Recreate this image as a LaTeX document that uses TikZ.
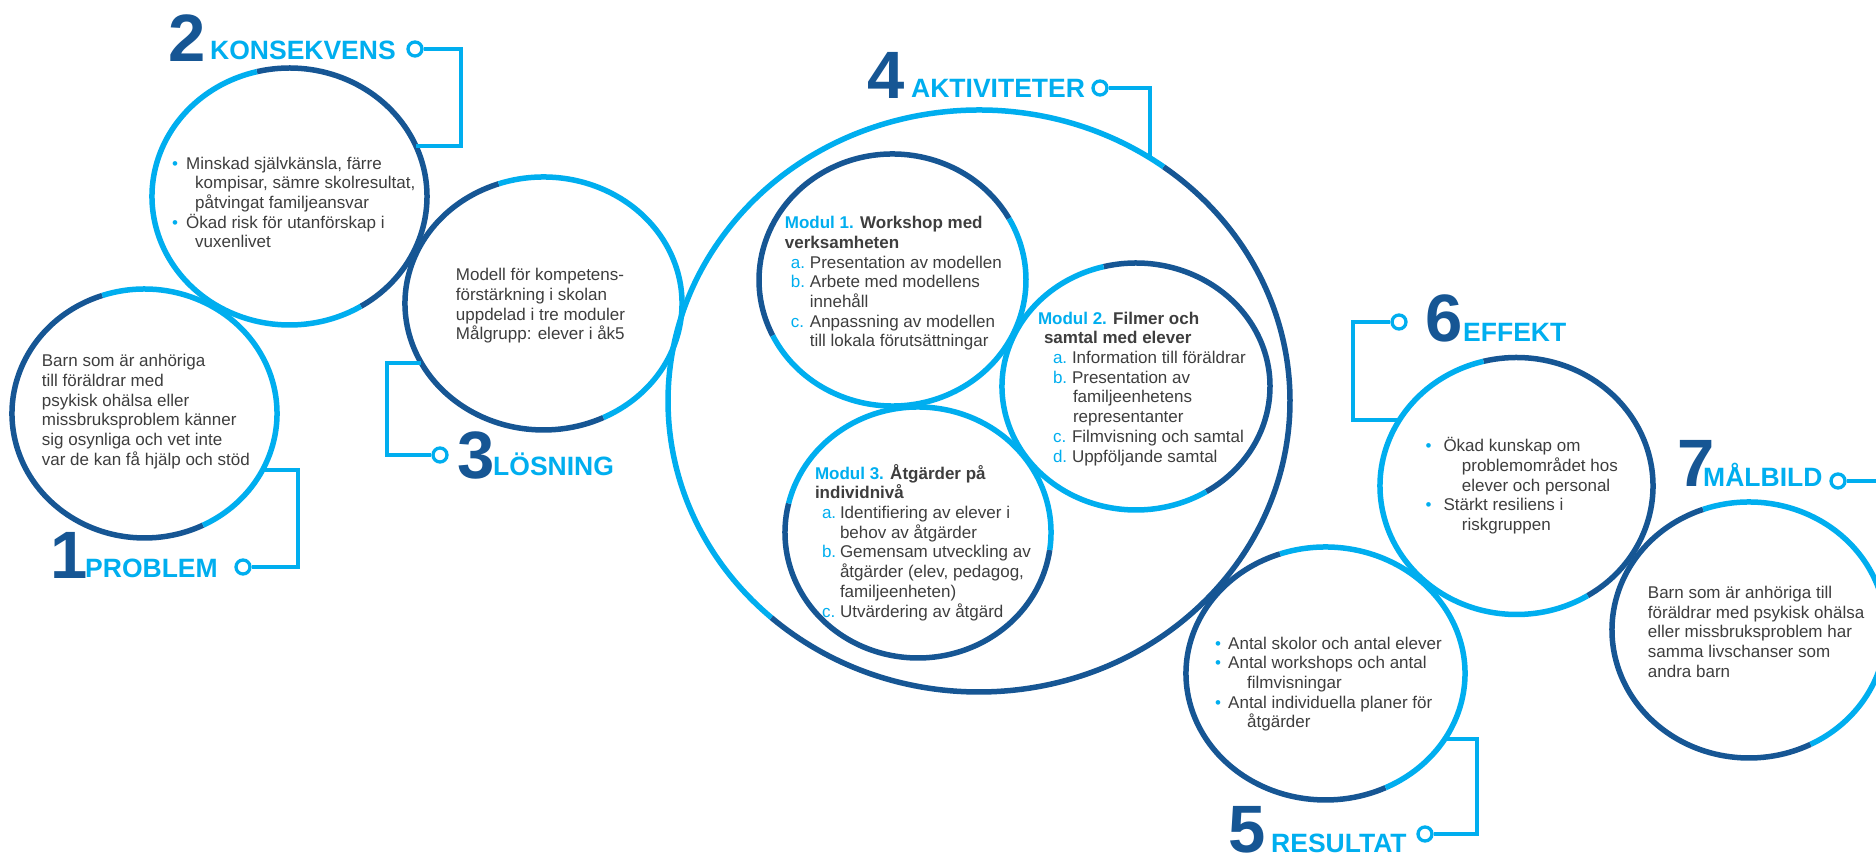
\documentclass[tikz,border=0pt]{standalone}
\usepackage{fontspec}
\setmainfont{Liberation Sans}
\definecolor{lb}{RGB}{0,174,239}
\definecolor{db}{RGB}{22,86,148}
\definecolor{tx}{RGB}{62,62,62}
\newcommand\twotonering[5]{%
  \draw[circline,db] (#1) ++(#4:#2pt and #3pt) arc[start angle=#4, end angle=#5, x radius=#2pt, y radius=#3pt];
  \draw[circline,lb] (#1) ++(#5:#2pt and #3pt) arc[start angle=#5, end angle=#4+360, x radius=#2pt, y radius=#3pt];}
\newcommand\mybul[1]{\makebox[#1][l]{\textcolor{lb}{•}}}
\newcommand\myitm[3]{\hspace*{#1}\makebox[#2][l]{\textcolor{lb}{#3}}}
\newcommand\fl{\rule{0pt}{17pt}}
\begin{document}
\begin{tikzpicture}[x=1pt,y=1pt,
  circline/.style={line width=5.5pt},
  connline/.style={draw=lb,line width=3.4pt},
  ringnode/.style={circle,draw=lb,line width=3.3pt,fill=white,minimum size=14pt,inner sep=0pt},
  bodytext/.style={anchor=north west,inner sep=0pt,align=left,text=tx,font=\fontsize{17}{19.7}\selectfont},
  wordlbl/.style={anchor=base west,inner sep=0pt,text=lb,font=\fontsize{26.5}{30}\selectfont\bfseries},
  digitlbl/.style={anchor=base east,inner sep=0pt,text=db,font=\fontsize{67}{70}\selectfont\bfseries}]
\useasboundingbox (0,0) rectangle (1876,856);
\fill[white] (0,0) rectangle (1876,856);
% centres
\coordinate (c1) at (144.5,442.5);
\coordinate (c2) at (289.5,659.5);
\coordinate (c3) at (543.5,552.5);
\coordinate (c4) at (979,455);
\coordinate (m1) at (892.5,576);
\coordinate (m2) at (1136,469.5);
\coordinate (m3) at (918,323.5);
\coordinate (c5) at (1325.5,182.5);
\coordinate (c6) at (1516.5,370);
\coordinate (c7) at (1749,226);
% circles
\twotonering{c4}{311}{291}{-131.9}{53.6}
\twotonering{m1}{133.5}{126}{29.2}{206.2}
\twotonering{m2}{134}{123.5}{-58.4}{104}
\twotonering{m3}{133}{125.5}{166.6}{352}
\twotonering{c1}{132.5}{124.5}{108.6}{296.2}
\twotonering{c2}{137.5}{128.5}{-58.7}{103.7}
\twotonering{c3}{138.5}{126.5}{108.9}{295.6}
\twotonering{c5}{139.5}{126.5}{109}{295.5}
\twotonering{c6}{136.5}{128.5}{-58.6}{104}
\twotonering{c7}{137}{128}{109.6}{296.7}
% connector corners and ends
\coordinate (k1) at (298,386);   \coordinate (e1) at (262.6,386);
\coordinate (k2) at (461,710);   \coordinate (e2) at (415.9,710);
\coordinate (k3) at (387,493);   \coordinate (e3) at (421.3,493);
\coordinate (e4) at (1150,698);
\coordinate (k5) at (1477,117);  \coordinate (e5) at (1444.8,117);
\coordinate (k6) at (1353,436);  \coordinate (e6) at (1399.4,436);
\coordinate (e7) at (1880,375);
% rings
\node[ringnode] (r1) at (243,289) {};
\node[ringnode] (r2) at (415,807) {};
\node[ringnode] (r3) at (440,401) {};
\node[ringnode] (r4) at (1100,768) {};
\node[ringnode] (r5) at (1425,22) {};
\node[ringnode] (r6) at (1399,534) {};
\node[ringnode] (r7) at (1838,375) {};
% connectors
\draw[connline] (r1.east) -| (k1) -- (e1);
\draw[connline] (r2.east) -| (k2) -- (e2);
\draw[connline] (r3.west) -| (k3) -- (e3);
\draw[connline] (r4.east) -| (e4);
\draw[connline] (r5.east) -| (k5) -- (e5);
\draw[connline] (r6.west) -| (k6) -- (e6);
\draw[connline] (r7.east) -- (e7);
% labels
\node[digitlbl] (d1) at (88,277.7) {1};
\node[wordlbl]  (w1) at (85,278) {PROBLEM};
\node[digitlbl] (d2) at (205.7,794.5) {2};
\node[wordlbl]  (w2) at (210,796.7) {KONSEKVENS};
\node[digitlbl] (d3) at (494.7,377) {3};
\node[wordlbl]  (w3) at (493,380.5) {LÖSNING};
\node[digitlbl] (d4) at (904.5,757) {4};
\node[wordlbl]  (w4) at (911,758) {AKTIVITETER};
\node[digitlbl] (d5) at (1265.7,3) {5};
\node[wordlbl]  (w5) at (1271,3) {RESULTAT};
\node[digitlbl] (d6) at (1462.7,514) {6};
\node[wordlbl]  (w6) at (1463,514.3) {EFFEKT};
\node[digitlbl] (d7) at (1714.5,369) {7};
\node[wordlbl]  (w7) at (1703,369.3) {MÅLBILD};
% texts
\node[bodytext] (t1) at (41.7,506.5) {\fl Barn som är anhöriga\\ till föräldrar med\\ psykisk ohälsa eller\\ missbruksproblem känner\\ sig osynliga och vet inte\\ var de kan få hjälp och stöd};
\node[bodytext] (t2) at (172,704) {\fl\mybul{14pt}Minskad självkänsla, färre\\ \hspace*{23pt}kompisar, sämre skolresultat,\\ \hspace*{23pt}påtvingat familjeansvar\\ \mybul{14pt}Ökad risk för utanförskap i\\ \hspace*{23pt}vuxenlivet};
\node[bodytext] (t3) at (455.7,592.3) {\fl Modell för kompetens-\\ förstärkning i skolan\\ uppdelad i tre moduler\\ Målgrupp: elever i åk5};
\node[bodytext] (t4a) at (784.7,644.5) {\fl{\color{lb}\bfseries Modul 1.} {\bfseries Workshop med}\\ {\bfseries verksamheten}\\ \myitm{6pt}{19pt}{a.}Presentation av modellen\\ \myitm{6pt}{19pt}{b.}Arbete med modellens\\ \hspace*{25pt}innehåll\\ \myitm{6pt}{19pt}{c.}Anpassning av modellen\\ \hspace*{25pt}till lokala förutsättningar};
\node[bodytext] (t4b) at (1037.8,549) {\fl{\color{lb}\bfseries Modul 2.} {\bfseries Filmer och}\\ \hspace*{6pt}{\bfseries samtal med elever}\\ \myitm{15pt}{19pt}{a.}Information till föräldrar\\ \myitm{15pt}{19pt}{b.}Presentation av\\ \hspace*{35pt}familjeenhetens\\ \hspace*{35pt}representanter\\ \myitm{15pt}{19pt}{c.}Filmvisning och samtal\\ \myitm{15pt}{19pt}{d.}Uppföljande samtal};
\node[bodytext] (t4c) at (814.8,394) {\fl{\color{lb}\bfseries Modul 3.} {\bfseries Åtgärder på}\\ {\bfseries individnivå}\\ \myitm{7pt}{18pt}{a.}Identifiering av elever i\\ \hspace*{25pt}behov av åtgärder\\ \myitm{7pt}{18pt}{b.}Gemensam utveckling av\\ \hspace*{25pt}åtgärder (elev, pedagog,\\ \hspace*{25pt}familjeenheten)\\ \myitm{7pt}{18pt}{c.}Utvärdering av åtgärd};
\node[bodytext] (t5) at (1215,224) {\fl\mybul{13pt}Antal skolor och antal elever\\ \mybul{13pt}Antal workshops och antal\\ \hspace*{32pt}filmvisningar\\ \mybul{13pt}Antal individuella planer för\\ \hspace*{32pt}åtgärder};
\node[bodytext] (t6) at (1425.3,421.3) {\fl\mybul{18pt}Ökad kunskap om\\ \hspace*{36.4pt}problemområdet hos\\ \hspace*{36.4pt}elever och personal\\ \mybul{18pt}Stärkt resiliens i\\ \hspace*{36.4pt}riskgruppen};
\node[bodytext] (t7) at (1647.7,274.7) {\fl Barn som är anhöriga till\\ föräldrar med psykisk ohälsa\\ eller missbruksproblem har\\ samma livschanser som\\ andra barn};
\end{tikzpicture}
\end{document}
